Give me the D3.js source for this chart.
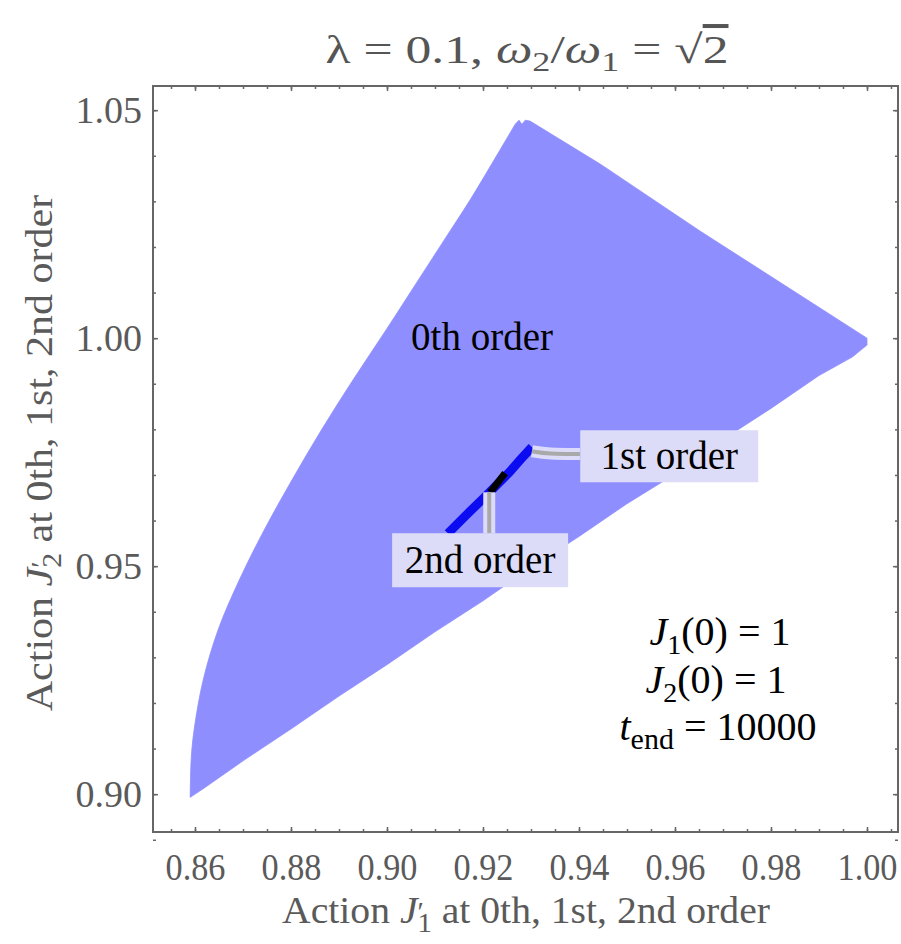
<!DOCTYPE html>
<html>
<head>
<meta charset="utf-8">
<script src="https://cdn.jsdelivr.net/npm/d3@7"></script>
<style>
  body { margin: 0; background: #fff; }
  text { font-family: "Liberation Serif", "Times New Roman", serif; }
</style>
</head>
<body>
<div id="container"></div>
<script>
// 0th order region: left edge (smooth), then top, right corner and bottom edge
var leftJ1 = [0.8590, 0.8592, 0.8598, 0.8617, 0.8648, 0.8692, 0.8744, 0.8802, 0.8863, 0.8929,
  0.8998, 0.9065, 0.9119, 0.9173, 0.9235, 0.9267];
var leftJ2 = [0.8993, 0.9075, 0.9140, 0.9250, 0.9360, 0.9469, 0.9579, 0.9689, 0.9798, 0.9908,
  1.0018, 1.0127, 1.0215, 1.0303, 1.0412, 1.0469];
var restJ1 = [0.9267, 0.9275, 0.9281, 0.9288, 0.9298,
  0.9444, 0.9652, 1.0000, 1.0000,
  0.9970, 0.9900, 0.9800, 0.9700, 0.9600, 0.9500, 0.9400, 0.9300, 0.9200, 0.9100, 0.9000, 0.8900, 0.8800, 0.8700, 0.8620, 0.8590];
var restJ2 = [1.0469, 1.0478, 1.0469, 1.0478, 1.0476,
  1.0382, 1.0235, 1.0000, 0.9985,
  0.9959, 0.9918, 0.9846, 0.9778, 0.9702, 0.9637, 0.9565, 0.9497, 0.9424, 0.9356, 0.9284, 0.9215, 0.9143, 0.9073, 0.9014, 0.8993];

// 1st order (blue) and 2nd order (black) traces
var firstJ1 = [0.9127, 0.9165, 0.9205, 0.9255, 0.9280, 0.9302];
var firstJ2 = [0.9572, 0.9612, 0.9653, 0.9706, 0.9736, 0.9761];
var secondJ1 = [0.9215, 0.9231, 0.9246];
var secondJ2 = [0.9662, 0.9684, 0.9704];

// callout leaders
var call1J1 = [0.9302, 0.9335, 0.9402];
var call1J2 = [0.9752, 0.9746, 0.9746];
var call2J1 = [0.9213, 0.9213];
var call2J2 = [0.9662, 0.9572];

// labels (centres)
var labelText = ["0th order", "1st order", "2nd order"];
var labelJ1 = [0.9198, 0.9588, 0.9194];
var labelJ2 = [1.0002, 0.9741, 0.9513];
var labelBoxed = [false, true, true];

var xMajor = [0.86, 0.88, 0.90, 0.92, 0.94, 0.96, 0.98, 1.00];
var yMajor = [0.90, 0.95, 1.00, 1.05];
var xMinor = d3.range(0, 31).map(function(i) { return 0.855 + i * 0.005; });
var yMinor = d3.range(0, 17).map(function(i) { return 0.89 + i * 0.01; });

var w = 901, h = 944;
var svg = d3.select("#container").append("svg")
  .attr("width", w).attr("height", h);

var x = d3.scaleLinear().domain([0.85125, 1.00646]).range([153, 898]);
var y = d3.scaleLinear().domain([0.8917, 1.0553]).range([832, 86]);

function fitWidth(sel, target) {
  var bb = sel.node().getBBox();
  var k = target / bb.width, cx = bb.x + bb.width / 2;
  sel.attr("transform", (sel.attr("transform") || "") +
    " translate(" + cx + ",0) scale(" + k + ",1) translate(" + (-cx) + ",0)");
}
function zip(a, b) { return a.map(function(d, i) { return [d, b[i]]; }); }

var plot = svg.append("g");
plot.append("clipPath").attr("id", "clip").append("rect")
  .attr("x", 153).attr("y", 86).attr("width", 745).attr("height", 746);
var inner = plot.append("g").attr("clip-path", "url(#clip)");

var line = d3.line().x(function(d) { return x(d[0]); }).y(function(d) { return y(d[1]); });
var smooth = d3.line().curve(d3.curveCatmullRom).x(function(d) { return x(d[0]); }).y(function(d) { return y(d[1]); });
var regionD = smooth(zip(leftJ1, leftJ2)) + line(zip(restJ1, restJ2)).replace(/^M/, "L") + "Z";
inner.append("path")
  .attr("d", regionD)
  .attr("fill", "#8e8eff")
  .attr("stroke", "#8e8eff").attr("stroke-width", 0.8);

inner.append("path").attr("d", line(zip(firstJ1, firstJ2)))
  .attr("fill", "none").attr("stroke", "#0c0cf2").attr("stroke-width", 9);
inner.append("path").attr("d", line(zip(secondJ1, secondJ2)))
  .attr("fill", "none").attr("stroke", "#000").attr("stroke-width", 7);

var curve = d3.line().curve(d3.curveBasis).x(function(d) { return x(d[0]); }).y(function(d) { return y(d[1]); });
[zip(call1J1, call1J2), zip(call2J1, call2J2)].forEach(function(pts) {
  inner.append("path").attr("d", curve(pts)).attr("fill", "none")
    .attr("stroke", "#dcdcfa").attr("stroke-width", 12);
  inner.append("path").attr("d", curve(pts)).attr("fill", "none")
    .attr("stroke", "#a9a9a9").attr("stroke-width", 4);
});

var boxW = [0, 178, 176], boxH = [0, 52, 54];
labelText.forEach(function(t, i) {
  var cx = x(labelJ1[i]), cy = y(labelJ2[i]);
  if (labelBoxed[i]) {
    inner.append("rect")
      .attr("x", cx - boxW[i] / 2).attr("y", cy - boxH[i] / 2)
      .attr("width", boxW[i]).attr("height", boxH[i])
      .attr("fill", "#dcdcf9");
  }
  inner.append("text").attr("x", cx).attr("y", cy + 13)
    .attr("text-anchor", "middle").attr("font-size", 39).attr("fill", "#000")
    .text(t);
});

// initial conditions block
var info = inner.append("g").attr("font-size", 40).attr("fill", "#000")
  .attr("font-family", "Liberation Serif, serif").attr("text-anchor", "middle");
var l1 = info.append("text").attr("x", 720).attr("y", 645);
l1.append("tspan").attr("font-style", "italic").text("J");
l1.append("tspan").attr("font-size", 28).attr("dy", 9).text("1");
l1.append("tspan").attr("dy", -9).text("(0) = 1");
var l2 = info.append("text").attr("x", 716).attr("y", 693);
l2.append("tspan").attr("font-style", "italic").text("J");
l2.append("tspan").attr("font-size", 28).attr("dy", 9).text("2");
l2.append("tspan").attr("dy", -9).text("(0) = 1");
var l3 = info.append("text").attr("x", 718).attr("y", 740);
l3.append("tspan").attr("font-style", "italic").text("t");
l3.append("tspan").attr("font-size", 30).attr("dy", 9).text("end");
l3.append("tspan").attr("dy", -9).text(" = 10000");

// axes: inward ticks on all four sides
var tickCol = "#666";
function styleAxis(g) {
  g.select(".domain").remove();
  g.selectAll("line").attr("stroke", tickCol).attr("stroke-width", 1.5);
}
var axBottom = svg.append("g").attr("transform", "translate(0,832)");
axBottom.append("g").call(d3.axisBottom(x).tickValues(xMinor).tickSize(-3).tickFormat("")).call(styleAxis);
axBottom.append("g").call(d3.axisBottom(x).tickValues(xMajor).tickSize(-5).tickPadding(22)
  .tickFormat(d3.format(".2f"))).call(styleAxis);
var axTop = svg.append("g").attr("transform", "translate(0,86)");
axTop.append("g").call(d3.axisTop(x).tickValues(xMinor).tickSize(-3).tickFormat("")).call(styleAxis);
axTop.append("g").call(d3.axisTop(x).tickValues(xMajor).tickSize(-5).tickFormat("")).call(styleAxis);
var axLeft = svg.append("g").attr("transform", "translate(153,0)");
axLeft.append("g").call(d3.axisLeft(y).tickValues(yMinor).tickSize(-3).tickFormat("")).call(styleAxis);
axLeft.append("g").call(d3.axisLeft(y).tickValues(yMajor).tickSize(-5).tickPadding(11)
  .tickFormat(d3.format(".2f"))).call(styleAxis);
var axRight = svg.append("g").attr("transform", "translate(898,0)");
axRight.append("g").call(d3.axisRight(y).tickValues(yMinor).tickSize(-3).tickFormat("")).call(styleAxis);
axRight.append("g").call(d3.axisRight(y).tickValues(yMajor).tickSize(-5).tickFormat("")).call(styleAxis);

svg.selectAll("g[font-family]").attr("font-family", "Liberation Serif, serif");
svg.selectAll(".tick text").attr("fill", "#5a5a5a");
axBottom.selectAll(".tick text").attr("font-size", 37).each(function() { fitWidth(d3.select(this), 60); });
axLeft.selectAll(".tick text").attr("font-size", 38);

svg.append("rect").attr("x", 153).attr("y", 86).attr("width", 745).attr("height", 746)
  .attr("fill", "none").attr("stroke", tickCol).attr("stroke-width", 2);

// title
var title = svg.append("text").attr("x", 527).attr("y", 63).attr("text-anchor", "middle")
  .attr("font-size", 40).attr("fill", "#555");
title.append("tspan").text("λ = 0.1, ");
title.append("tspan").attr("font-style", "italic").text("ω");
title.append("tspan").attr("font-size", 28).attr("dy", 8).text("2");
title.append("tspan").attr("dy", -8).text("/");
title.append("tspan").attr("font-style", "italic").text("ω");
title.append("tspan").attr("font-size", 28).attr("dy", 8).text("1");
title.append("tspan").attr("dy", -8).text(" = √");
title.append("tspan").attr("text-decoration", "overline").text("2");
fitWidth(title, 403);

// axis labels
function axisLabel(g, sub) {
  g.append("tspan").text("Action ");
  g.append("tspan").attr("font-style", "italic").text("J");
  g.append("tspan").attr("font-size", 27).attr("dy", -2).text("′");
  g.append("tspan").attr("font-size", 27).attr("dx", -6).attr("dy", 11).text(sub);
  g.append("tspan").attr("dy", -9).text(" at 0th, 1st, 2nd order");
}
var xl = svg.append("text").attr("x", 526).attr("y", 923).attr("text-anchor", "middle")
  .attr("font-size", 37).attr("fill", "#5a5a5a");
axisLabel(xl, "1");
fitWidth(xl, 488);
var yl = svg.append("text").attr("transform", "translate(52,453) rotate(-90)")
  .attr("text-anchor", "middle").attr("font-size", 38).attr("fill", "#5a5a5a");
axisLabel(yl, "2");
fitWidth(yl, 517);
</script>
</body>
</html>
